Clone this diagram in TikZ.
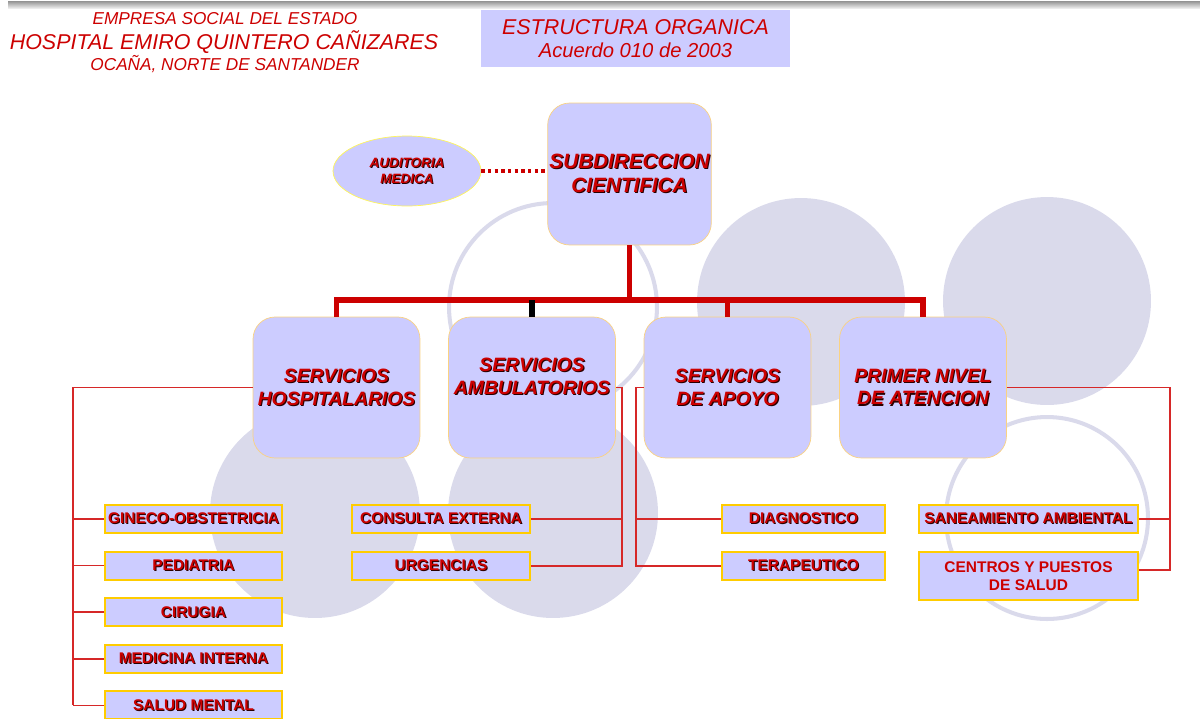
\documentclass[tikz,border=0pt]{standalone}
\usepackage{fontspec}
\setmainfont{Liberation Sans}
\usepackage{tikz}
\usetikzlibrary{shapes.geometric, positioning, backgrounds}

\definecolor{orgred}{RGB}{204,0,0}
\definecolor{linered}{RGB}{214,40,40}
\definecolor{boxfill}{RGB}{204,204,255}
\definecolor{circlefill}{RGB}{218,218,235}
\definecolor{boxedge}{RGB}{250,210,130}
\definecolor{smalledge}{RGB}{255,204,0}
\definecolor{ovaledge}{RGB}{255,245,90}

% red text with a dark shadow
\newcommand{\shd}[1]{\rlap{\kern0.6pt\raisebox{-0.6pt}{\color{black!80!orgred}#1}}#1}

\begin{document}
\begin{tikzpicture}[x=0.02cm,y=-0.02cm,
    main box/.style={rectangle,rounded corners=0.44cm,draw=boxedge,fill=boxfill,thin,minimum width=3.34cm,minimum height=2.82cm,inner sep=1pt,align=center,text=orgred,font=\fontsize{11}{13}\selectfont\bfseries\itshape},
    small box/.style={rectangle,draw=smalledge,fill=boxfill,line width=1.1pt,minimum height=0.56cm,inner sep=1pt,align=center,text=orgred,font=\fontsize{8.8}{10.5}\selectfont\bfseries},
    head text/.style={text=orgred,inner sep=0pt},
    thick line/.style={orgred,line width=3pt},
    thin line/.style={linered,line width=1pt}]

\useasboundingbox (0,0) rectangle (1200,718);

%Background circles
\fill[circlefill] (801,302) circle[radius=2.08cm];
\fill[circlefill] (1047,301) circle[radius=2.08cm];
\fill[circlefill] (315,513) circle[radius=2.1cm];
\fill[circlefill] (553,513) circle[radius=2.1cm];
\draw[circlefill,line width=2.3pt] (553,307) circle[radius=2.08cm];
\draw[circlefill,line width=2.3pt] (1047,518) circle[radius=2.02cm];

%Top bar
\shade[top color=gray!85,bottom color=gray!15] (8,1) rectangle (1200,8);

%Heading
\node[head text,font=\fontsize{9.8}{11}\selectfont\itshape] (empresa) at (225,19) {EMPRESA SOCIAL DEL ESTADO};
\node[head text,font=\fontsize{12.2}{14}\selectfont\itshape] (hospital) at (224,42) {HOSPITAL EMIRO QUINTERO CAÑIZARES};
\node[head text,font=\fontsize{9.8}{11}\selectfont\itshape] (ocana) at (225,64) {OCAÑA, NORTE DE SANTANDER};

\node[rectangle,fill=boxfill,minimum width=6.18cm,minimum height=1.14cm,align=center,text=orgred,font=\fontsize{11.5}{12.8}\selectfont\itshape] (titulo) at (635.5,38.5) {{\fontsize{12.2}{12.8}\selectfont ESTRUCTURA ORGANICA}\\Acuerdo 010 de 2003};

%Top of the chart
\node[ellipse,draw=ovaledge,fill=boxfill,minimum width=2.96cm,minimum height=1.4cm,inner sep=0pt,align=center,text=orgred,font=\fontsize{7.7}{9}\selectfont\bfseries\itshape] (auditoria) at (407,171) {\shd{AUDITORIA}\\\shd{MEDICA}};
\node[main box,minimum width=3.26cm,minimum height=2.84cm,font=\fontsize{11.8}{13.6}\selectfont\bfseries\itshape] (subdireccion) at (629.5,174) {\shd{SUBDIRECCION}\\\shd{CIENTIFICA}};

\draw[orgred,line width=1.8pt,dotted] (auditoria.east) -- (auditoria.east -| subdireccion.west);

%Services
\node[main box] (hospitalarios) at (336.5,387.5) {\shd{SERVICIOS}\\\shd{HOSPITALARIOS}};
\node[main box,text depth=13pt] (ambulatorios) at (532,387.5) {\shd{SERVICIOS}\\\shd{AMBULATORIOS}};
\node[main box] (apoyo) at (727.5,387.5) {\shd{SERVICIOS}\\\shd{DE APOYO}};
\node[main box] (primer) at (923,387.5) {\shd{PRIMER NIVEL}\\\shd{DE ATENCION}};

\coordinate (barlevel) at (0,300);
\draw[thick line] (subdireccion.south) -- (subdireccion.south |- barlevel);
\draw[thick line] (hospitalarios.north) -- (hospitalarios.north |- barlevel) -- (primer.north |- barlevel) -- (primer.north);
\draw[thick line] (apoyo.north) -- (apoyo.north |- barlevel);
\draw[black,line width=3pt] (ambulatorios.north) -- (ambulatorios.north |- barlevel);

%Hospital units
\coordinate (hospline) at (73,0);
\foreach \name/\txt [count=\i from 0] in {gineco/GINECO-OBSTETRICIA,pediatria/PEDIATRIA,cirugia/CIRUGIA,medicina/MEDICINA INTERNA,salud/SALUD MENTAL}
  {\node[small box,minimum width=3.54cm] (\name) at (193.5,519+46.6*\i) {\shd{\txt}};
   \draw[thin line] (\name.west) -- (\name.west -| hospline);}
\draw[thin line] (hospitalarios.west) -- (hospitalarios.west -| hospline) -- (hospline |- salud.west);

%Ambulatory units
\node[small box,minimum width=3.56cm] (consulta) at (441,519) {\shd{CONSULTA EXTERNA}};
\node[small box,minimum width=3.56cm] (urgencias) at (441,566) {\shd{URGENCIAS}};
\coordinate (ambuline) at (622,0);
\draw[thin line] (ambulatorios.east) -- (ambulatorios.east -| ambuline) -- (ambuline |- urgencias.east) -- (urgencias.east);
\draw[thin line] (consulta.east) -- (consulta.east -| ambuline);

%Support units
\node[small box,minimum width=3.26cm] (diagnostico) at (803.5,519) {\shd{DIAGNOSTICO}};
\node[small box,minimum width=3.26cm] (terapeutico) at (803.5,566) {\shd{TERAPEUTICO}};
\coordinate (apoyoline) at (636,0);
\draw[thin line] (apoyo.west) -- (apoyo.west -| apoyoline) -- (apoyoline |- terapeutico.west) -- (terapeutico.west);
\draw[thin line] (diagnostico.west) -- (diagnostico.west -| apoyoline);

%First level units
\node[small box,minimum width=4.38cm] (saneamiento) at (1028.5,519) {\shd{SANEAMIENTO AMBIENTAL}};
\node[small box,minimum width=4.38cm,minimum height=0.96cm] (centros) at (1028.5,576) {CENTROS Y PUESTOS\\DE SALUD};
\coordinate (primerline) at (1170,0);
\coordinate (centroslink) at ([yshift=3.4pt]centros.east);
\draw[thin line] (primer.east) -- (primer.east -| primerline) -- (primerline |- centroslink) -- (centroslink);
\draw[thin line] (saneamiento.east) -- (saneamiento.east -| primerline);

\end{tikzpicture}
\end{document}
